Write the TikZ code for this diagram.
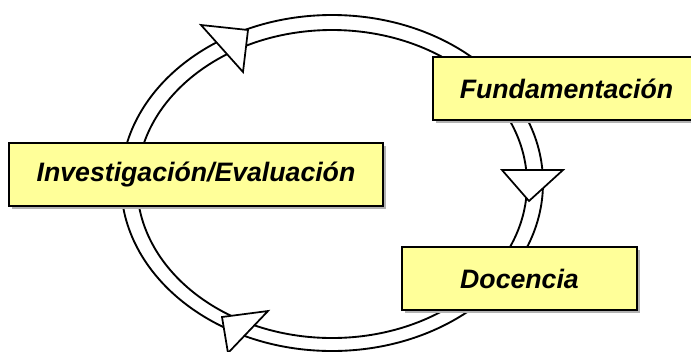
\documentclass[tikz,border=0pt]{standalone}
\usepackage{fontspec}
\setmainfont{Liberation Sans}
\usepackage{tikz}
\usetikzlibrary{shadows}

\definecolor{caja}{HTML}{FFFF99}

\begin{document}
\begin{tikzpicture}[x=0.75pt, y=-0.75pt,
    etapa/.style={draw=black, line width=1.4pt, fill=caja, minimum height=47pt,
        font=\fontsize{20}{24}\selectfont\bfseries\itshape,
        drop shadow={shadow xshift=2pt, shadow yshift=-2pt, fill=gray!60, opacity=1}},
    punta/.style={draw=black, line width=1.3pt, fill=white, line join=miter}]
    \useasboundingbox (0,0) rectangle (691,351);
    % ciclo
    \draw[line width=1.4pt] (332,183) ellipse [x radius=211, y radius=168];
    \draw[line width=1.4pt] (332,184) ellipse [x radius=195, y radius=154];
    \draw[punta] (201,25) -- (248,30) -- (243,72) -- cycle;
    \draw[punta] (502,170) -- (563,170) -- (529,201) -- cycle;
    \draw[punta] (268,311) -- (222,317) -- (228,353) -- cycle;
    % etapas
    \node[etapa, minimum width=200pt] (fund) at (566.5,88.5) {Fundamentación};
    \node[etapa, minimum width=280.5pt] (inv) at (196,174.5) {Investigación/Evaluación};
    \node[etapa, minimum width=176pt] (doc) at (519.5,278.5) {Docencia};
\end{tikzpicture}
\end{document}
